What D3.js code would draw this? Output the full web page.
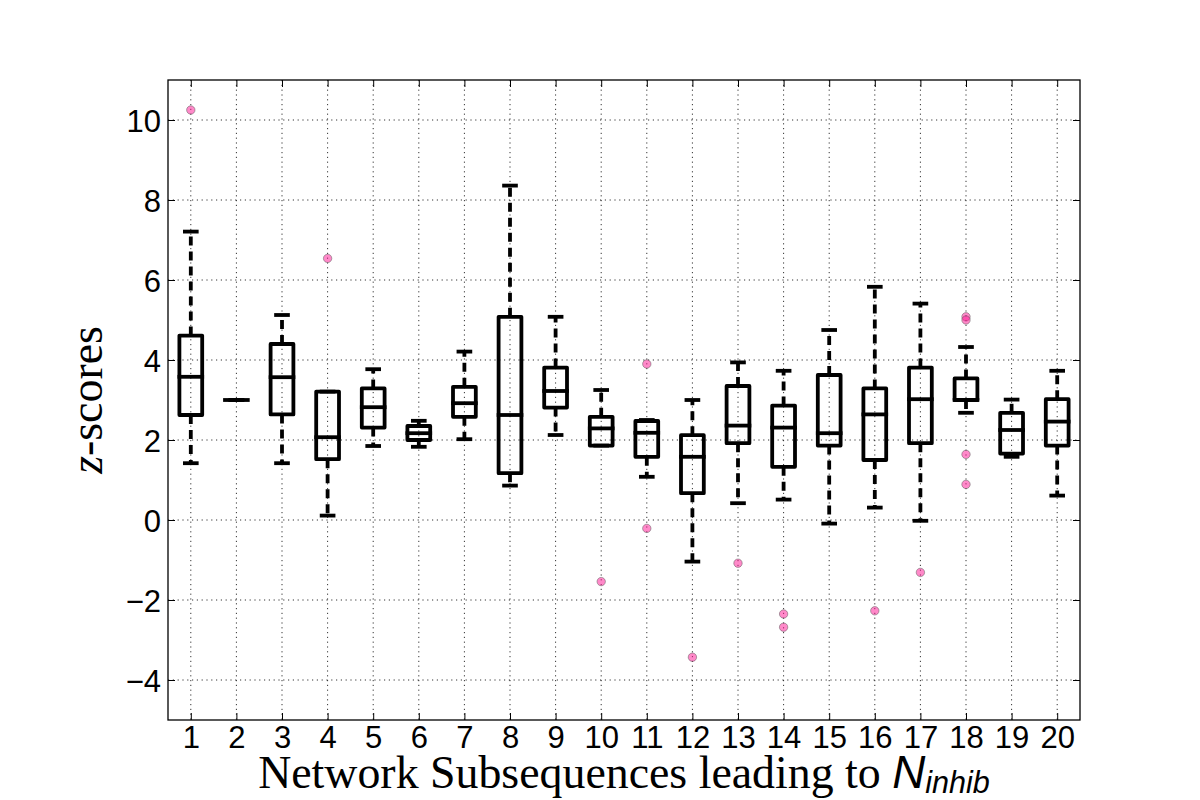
<!DOCTYPE html>
<html>
<head>
<meta charset="utf-8">
<script src="https://cdnjs.cloudflare.com/ajax/libs/d3/7.8.5/d3.min.js"></script>
<style>
  body { margin: 0; background: #fff; }
  svg { display: block; }
</style>
</head>
<body>
<script>
// box plot data
var categories = [1, 2, 3, 4, 5, 6, 7, 8, 9, 10, 11, 12, 13, 14, 15, 16, 17, 18, 19, 20];
var whiskLo = [1.42, 3.0, 1.42, 0.11, 1.85, 1.83, 2.02, 0.86, 2.125, 1.86, 1.08, -1.04, 0.42, 0.51, -0.09, 0.31, -0.02, 2.68, 1.58, 0.61];
var q1      = [2.625, 3.0, 2.64, 1.52, 2.31, 2.0, 2.58, 1.17, 2.81, 1.86, 1.58, 0.67, 1.92, 1.33, 1.86, 1.5, 1.92, 3.0, 1.66, 1.86];
var medians = [3.58, 3.0, 3.57, 2.07, 2.82, 2.17, 2.92, 2.625, 3.225, 2.29, 2.18, 1.58, 2.36, 2.31, 2.17, 2.64, 3.02, 3.0, 2.25, 2.46];
var q3      = [4.61, 3.0, 4.4, 3.21, 3.29, 2.35, 3.33, 5.08, 3.81, 2.58, 2.475, 2.12, 3.35, 2.86, 3.625, 3.29, 3.81, 3.54, 2.68, 3.02];
var whiskHi = [7.21, 3.0, 5.125, 3.21, 3.77, 2.48, 4.21, 8.36, 5.08, 3.25, 2.5, 3.0, 3.94, 3.73, 4.75, 5.83, 5.41, 4.325, 3.01, 3.73];
var fliers = [[10.25], [], [], [6.54], [], [], [], [], [], [-1.54], [3.9, -0.21], [-3.43], [-1.08], [-2.35, -2.68], [], [-2.27], [-1.31], [5.08, 5.0, 1.64, 0.89], [], []];
var yTicks = [-4, -2, 0, 2, 4, 6, 8, 10];

var W = 1200, H = 800;
var mLeft = 168, mRight = 1080, mTop = 80, mBottom = 720;
var boxHalf = 0.25, capHalf = 0.13;

var svg = d3.select('body').append('svg')
  .attr('width', W)
  .attr('height', H);

var x = d3.scaleLinear().domain([0.5, 20.5]).range([mLeft, mRight]);
var y = d3.scaleLinear().domain([-5, 11]).range([mBottom, mTop]);

// grid
var grid = svg.append('g');
grid.selectAll('.gx').data(categories).enter().append('line')
  .attr('x1', d => x(d)).attr('x2', d => x(d))
  .attr('y1', mTop).attr('y2', mBottom)
  .attr('stroke', '#000').attr('stroke-width', 0.8)
  .attr('stroke-dasharray', '1.2,3.6');
grid.selectAll('.gy').data(yTicks).enter().append('line')
  .attr('x1', mLeft).attr('x2', mRight)
  .attr('y1', d => y(d)).attr('y2', d => y(d))
  .attr('stroke', '#000').attr('stroke-width', 0.8)
  .attr('stroke-dasharray', '1.2,3.6');

// axes with inward ticks on all four sides
var fmt = d => d < 0 ? '\u2212' + Math.abs(d) : String(d);
var xAxis = svg.append('g').attr('transform', 'translate(0,' + mBottom + ')')
  .call(d3.axisBottom(x).tickValues(categories).tickSizeInner(-7).tickSizeOuter(0).tickPadding(6));
var yAxis = svg.append('g').attr('transform', 'translate(' + mLeft + ',0)')
  .call(d3.axisLeft(y).tickValues(yTicks).tickFormat(fmt).tickSizeInner(-7).tickSizeOuter(0).tickPadding(7));
svg.append('g').attr('transform', 'translate(0,' + mTop + ')')
  .call(d3.axisTop(x).tickValues(categories).tickFormat('').tickSizeInner(-7).tickSizeOuter(0));
svg.append('g').attr('transform', 'translate(' + mRight + ',0)')
  .call(d3.axisRight(y).tickValues(yTicks).tickFormat('').tickSizeInner(-7).tickSizeOuter(0));

svg.selectAll('.domain').remove();
svg.selectAll('.tick line').attr('stroke', '#000').attr('stroke-width', 1);
svg.selectAll('.tick text')
  .attr('fill', '#000')
  .style('font-family', '"Liberation Sans", Arial, sans-serif')
  .style('font-size', '31px');
xAxis.selectAll('.tick text').attr('dy', '0.71em');
yAxis.selectAll('.tick text').attr('dy', '0.36em');

svg.append('rect')
  .attr('x', mLeft).attr('y', mTop)
  .attr('width', mRight - mLeft).attr('height', mBottom - mTop)
  .attr('fill', 'none').attr('stroke', '#000').attr('stroke-width', 1.3);

// boxes
var boxes = svg.append('g').selectAll('g').data(categories).enter().append('g');
var lw = 3.8;

// dashed whiskers
boxes.append('line')
  .attr('x1', d => x(d)).attr('x2', d => x(d))
  .attr('y1', (d, i) => y(q3[i])).attr('y2', (d, i) => y(whiskHi[i]))
  .attr('stroke', '#000').attr('stroke-width', lw).attr('stroke-dasharray', '9,6');
boxes.append('line')
  .attr('x1', d => x(d)).attr('x2', d => x(d))
  .attr('y1', (d, i) => y(q1[i])).attr('y2', (d, i) => y(whiskLo[i]))
  .attr('stroke', '#000').attr('stroke-width', lw).attr('stroke-dasharray', '9,6');

// caps
boxes.append('line')
  .attr('x1', d => x(d - capHalf)).attr('x2', d => x(d + capHalf))
  .attr('y1', (d, i) => y(whiskHi[i])).attr('y2', (d, i) => y(whiskHi[i]))
  .attr('stroke', '#000').attr('stroke-width', lw).attr('stroke-linecap', 'square');
boxes.append('line')
  .attr('x1', d => x(d - capHalf)).attr('x2', d => x(d + capHalf))
  .attr('y1', (d, i) => y(whiskLo[i])).attr('y2', (d, i) => y(whiskLo[i]))
  .attr('stroke', '#000').attr('stroke-width', lw).attr('stroke-linecap', 'square');

// box outline
boxes.append('rect')
  .attr('x', d => x(d - boxHalf))
  .attr('width', d => x(d + boxHalf) - x(d - boxHalf))
  .attr('y', (d, i) => y(q3[i]))
  .attr('height', (d, i) => y(q1[i]) - y(q3[i]))
  .attr('fill', 'none').attr('stroke', '#000').attr('stroke-width', lw)
  .attr('stroke-linejoin', 'round');

// median
boxes.append('line')
  .attr('x1', d => x(d - boxHalf)).attr('x2', d => x(d + boxHalf))
  .attr('y1', (d, i) => y(medians[i])).attr('y2', (d, i) => y(medians[i]))
  .attr('stroke', '#000').attr('stroke-width', lw).attr('stroke-linecap', 'square');

// outliers
boxes.each(function(d, i) {
  d3.select(this).selectAll('circle').data(fliers[i]).enter().append('circle')
    .attr('cx', x(d))
    .attr('cy', v => y(v))
    .attr('r', 4.2)
    .attr('fill', '#ff1493').attr('fill-opacity', 0.5)
    .attr('stroke', '#555').attr('stroke-opacity', 0.6).attr('stroke-width', 0.8);
});

// axis labels
var xl = svg.append('text')
  .attr('x', (mLeft + mRight) / 2).attr('y', 788)
  .attr('text-anchor', 'middle')
  .style('font-family', '"Liberation Serif", "DejaVu Serif", serif')
  .style('font-size', '42px');
xl.append('tspan').text('Network Subsequences leading to ');
xl.append('tspan').text('N')
  .style('font-family', '"Liberation Sans", Arial, sans-serif').style('font-style', 'italic');
xl.append('tspan').text('inhib')
  .attr('dy', 5)
  .style('font-family', '"Liberation Sans", Arial, sans-serif').style('font-style', 'italic')
  .style('font-size', '28px');

// fit label width to the picture (~732px)
var w = xl.node().getComputedTextLength();
var k = 732 / w;
xl.style('font-size', (42 * k) + 'px');
xl.select('tspan:last-child').style('font-size', (28 * k) + 'px');

var yl = svg.append('text')
  .attr('transform', 'translate(102,' + ((mTop + mBottom) / 2) + ') rotate(-90)')
  .attr('text-anchor', 'middle')
  .style('font-family', '"Liberation Serif", "DejaVu Serif", serif')
  .style('font-size', (42 * k) + 'px');
yl.append('tspan').text('z').style('font-style', 'italic');
yl.append('tspan').text('-scores');
</script>
</body>
</html>
